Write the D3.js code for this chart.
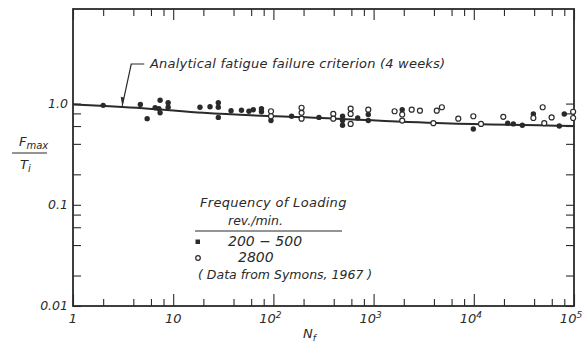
<!DOCTYPE html>
<html>
<head>
<meta charset="utf-8">
<script src="https://cdn.jsdelivr.net/npm/d3@7"></script>
<style>
  body { margin: 0; background: #fff; }
  text { font-family: "DejaVu Sans", sans-serif; font-style: italic; fill: #2a2a2a; }
</style>
</head>
<body>
<div id="chart"></div>
<script>
// 200-500 rev/min (filled symbols)
const lowNf    = [2, 4.7, 5.5, 6.6, 7.2, 7.4, 7.4, 8.9, 8.9, 18.5, 23.3, 28.2, 28.2, 28.2, 37.8, 48, 57, 63, 76, 76, 94.6,
                  152, 285, 490, 490, 490, 694, 885, 885, 1930, 9890, 21800, 24800, 30500, 39300, 71300, 80000];
const lowRatio = [0.96, 0.98, 0.71, 0.91, 0.89, 1.08, 0.81, 1.02, 0.92, 0.92, 0.93, 1.02, 0.92, 0.73, 0.85, 0.86, 0.84, 0.87, 0.89, 0.83, 0.68,
                  0.75, 0.73, 0.75, 0.68, 0.61, 0.72, 0.78, 0.68, 0.87, 0.56, 0.64, 0.63, 0.61, 0.79, 0.60, 0.79];

// 2800 rev/min (open symbols)
const highNf    = [94.6, 94.6, 191, 191, 191, 396, 396, 590, 590, 590, 885, 1620, 1930, 1930, 2400, 2900, 3950, 4270, 4800,
                   7000, 9890, 11800, 19700, 39300, 48700, 50500, 59800, 98000, 98000];
const highRatio = [0.84, 0.75, 0.91, 0.81, 0.71, 0.79, 0.71, 0.89, 0.79, 0.63, 0.87, 0.84, 0.78, 0.68, 0.87, 0.85, 0.64, 0.85, 0.92,
                   0.71, 0.75, 0.63, 0.74, 0.72, 0.92, 0.64, 0.73, 0.83, 0.72];

// analytical fatigue failure criterion (4 weeks)
const critNf    = [1, 5, 20, 300, 5000, 100000];
const critRatio = [0.98, 0.90, 0.81, 0.72, 0.64, 0.60];

const xDecades = [1, 10, 100, 1000, 10000, 100000];
const xLabels  = ["1", "10", "10|2", "10|3", "10|4", "10|5"];
const yDecades = [0.01, 0.1, 1];
const yLabels  = ["0.01", "0.1", "1.0"];

const width = 585, height = 343;
const plotLeft = 73, plotRight = 574, plotTop = 9, plotBottom = 306;
const ink = "#2a2a2a";

const x = d3.scaleLog().domain([1, 1e5]).range([plotLeft, plotRight]);
const y = d3.scaleLog().domain([0.01, 8.6]).range([plotBottom, plotTop]);

const svg = d3.select("#chart").append("svg")
    .attr("width", width)
    .attr("height", height);

// minor ticks at 2,4,6,8 of each decade
const minorX = [];
xDecades.slice(0, -1).forEach(d => [2, 4, 6, 8].forEach(m => minorX.push(d * m)));
const minorY = [];
yDecades.slice(0, -1).forEach(d => [2, 4, 6, 8].forEach(m => minorY.push(d * m)));

// bottom and top axes: ticks pointing inward
const xBottom = d3.axisBottom(x).tickValues(minorX).tickSize(-7).tickFormat("");
const xBottomMajor = d3.axisBottom(x).tickValues(xDecades).tickSize(-12).tickFormat("");
const xTop = d3.axisTop(x).tickValues(minorX).tickSize(-7).tickFormat("");
const xTopMajor = d3.axisTop(x).tickValues(xDecades).tickSize(-11).tickFormat("");
const yLeft = d3.axisLeft(y).tickValues(minorY.concat(yDecades)).tickSize(-8).tickFormat("");
const yRight = d3.axisRight(y).tickValues(minorY.concat(yDecades)).tickSize(-8).tickFormat("");

[[xBottom, `translate(0,${plotBottom})`], [xBottomMajor, `translate(0,${plotBottom})`],
 [xTop, `translate(0,${plotTop})`], [xTopMajor, `translate(0,${plotTop})`],
 [yLeft, `translate(${plotLeft},0)`], [yRight, `translate(${plotRight},0)`]].forEach(([ax, tr]) => {
  const g = svg.append("g").attr("transform", tr).call(ax);
  g.select(".domain").remove();
  g.selectAll("line").attr("stroke", ink).attr("stroke-width", 1.1);
});

// frame
svg.append("rect")
    .attr("x", plotLeft).attr("y", plotTop)
    .attr("width", plotRight - plotLeft).attr("height", plotBottom - plotTop)
    .attr("fill", "none").attr("stroke", ink).attr("stroke-width", 1.8);

// x tick labels (with superscript exponents)
xLabels.forEach((lab, i) => {
  const parts = lab.split("|");
  const t = svg.append("text")
      .attr("x", x(xDecades[i]) + (parts.length > 1 ? -3 : 0))
      .attr("y", 323)
      .attr("text-anchor", "middle")
      .attr("font-size", 13)
      .text(parts[0]);
  if (parts.length > 1) {
    t.append("tspan").attr("dy", -5).attr("font-size", 9).text(parts[1]);
  }
});

// y tick labels
yLabels.forEach((lab, i) => {
  svg.append("text")
      .attr("x", 68)
      .attr("y", y(yDecades[i]) + 4)
      .attr("text-anchor", "end")
      .attr("font-size", 12.5)
      .text(lab);
});

// axis titles
svg.append("text").attr("x", 303).attr("y", 338).attr("font-size", 13)
    .text("N").append("tspan").attr("dy", 3).attr("font-size", 9).text("f");

svg.append("text").attr("x", 19).attr("y", 146).attr("font-size", 13)
    .text("F").append("tspan").attr("dy", 3).attr("font-size", 10).text("max");
svg.append("line").attr("x1", 12).attr("x2", 47).attr("y1", 153).attr("y2", 153)
    .attr("stroke", ink).attr("stroke-width", 1.2);
svg.append("text").attr("x", 20).attr("y", 169).attr("font-size", 13)
    .text("T").append("tspan").attr("dy", 3).attr("font-size", 10).text("i");

// criterion line
const line = d3.line()
    .x((d, i) => x(critNf[i]))
    .y((d, i) => y(critRatio[i]))
    .curve(d3.curveMonotoneX);
svg.append("path")
    .datum(critNf)
    .attr("d", line)
    .attr("fill", "none")
    .attr("stroke", ink)
    .attr("stroke-width", 2);

// data points
svg.append("g").selectAll("circle")
  .data(lowNf)
  .join("circle")
    .attr("cx", d => x(d))
    .attr("cy", (d, i) => y(lowRatio[i]))
    .attr("r", 2.7)
    .attr("fill", ink);

svg.append("g").selectAll("circle")
  .data(highNf)
  .join("circle")
    .attr("cx", d => x(d))
    .attr("cy", (d, i) => y(highRatio[i]))
    .attr("r", 2.5)
    .attr("fill", "#fff")
    .attr("stroke", ink)
    .attr("stroke-width", 1.2);

// annotation with leader
const tipX = x(3.1), tipY = y(0.93) - 1;
svg.append("path")
    .attr("d", `M${tipX + 22},64 L${tipX + 9},64 L${tipX},${tipY}`)
    .attr("fill", "none").attr("stroke", ink).attr("stroke-width", 1.2);
svg.append("path")
    .attr("d", `M${tipX - 1.5},${tipY - 9} L${tipX + 2},${tipY - 8} L${tipX},${tipY} Z`)
    .attr("fill", ink);
svg.append("text")
    .attr("x", 150).attr("y", 68)
    .attr("font-size", 13)
    .attr("letter-spacing", 0.22)
    .text("Analytical fatigue failure criterion (4 weeks)");

// legend
const legend = svg.append("g");
legend.append("text").attr("x", 200).attr("y", 207).attr("font-size", 13)
    .attr("letter-spacing", 0.3).text("Frequency of Loading");
legend.append("text").attr("x", 228).attr("y", 225).attr("font-size", 12.5).text("rev./min.");
legend.append("line").attr("x1", 195).attr("x2", 342).attr("y1", 231).attr("y2", 231)
    .attr("stroke", ink).attr("stroke-width", 1.2);
legend.append("rect").attr("x", 195.5).attr("y", 239.5).attr("width", 4.5).attr("height", 4.5).attr("fill", ink);
legend.append("text").attr("x", 228).attr("y", 246).attr("font-size", 14).text("200 \u2212 500");
legend.append("circle").attr("cx", 198).attr("cy", 258).attr("r", 2.3)
    .attr("fill", "#fff").attr("stroke", ink).attr("stroke-width", 1.2);
legend.append("text").attr("x", 238).attr("y", 262).attr("font-size", 14).text("2800");
legend.append("text").attr("x", 198).attr("y", 279).attr("font-size", 12.5).text("( Data from Symons, 1967 )");
</script>
</body>
</html>
